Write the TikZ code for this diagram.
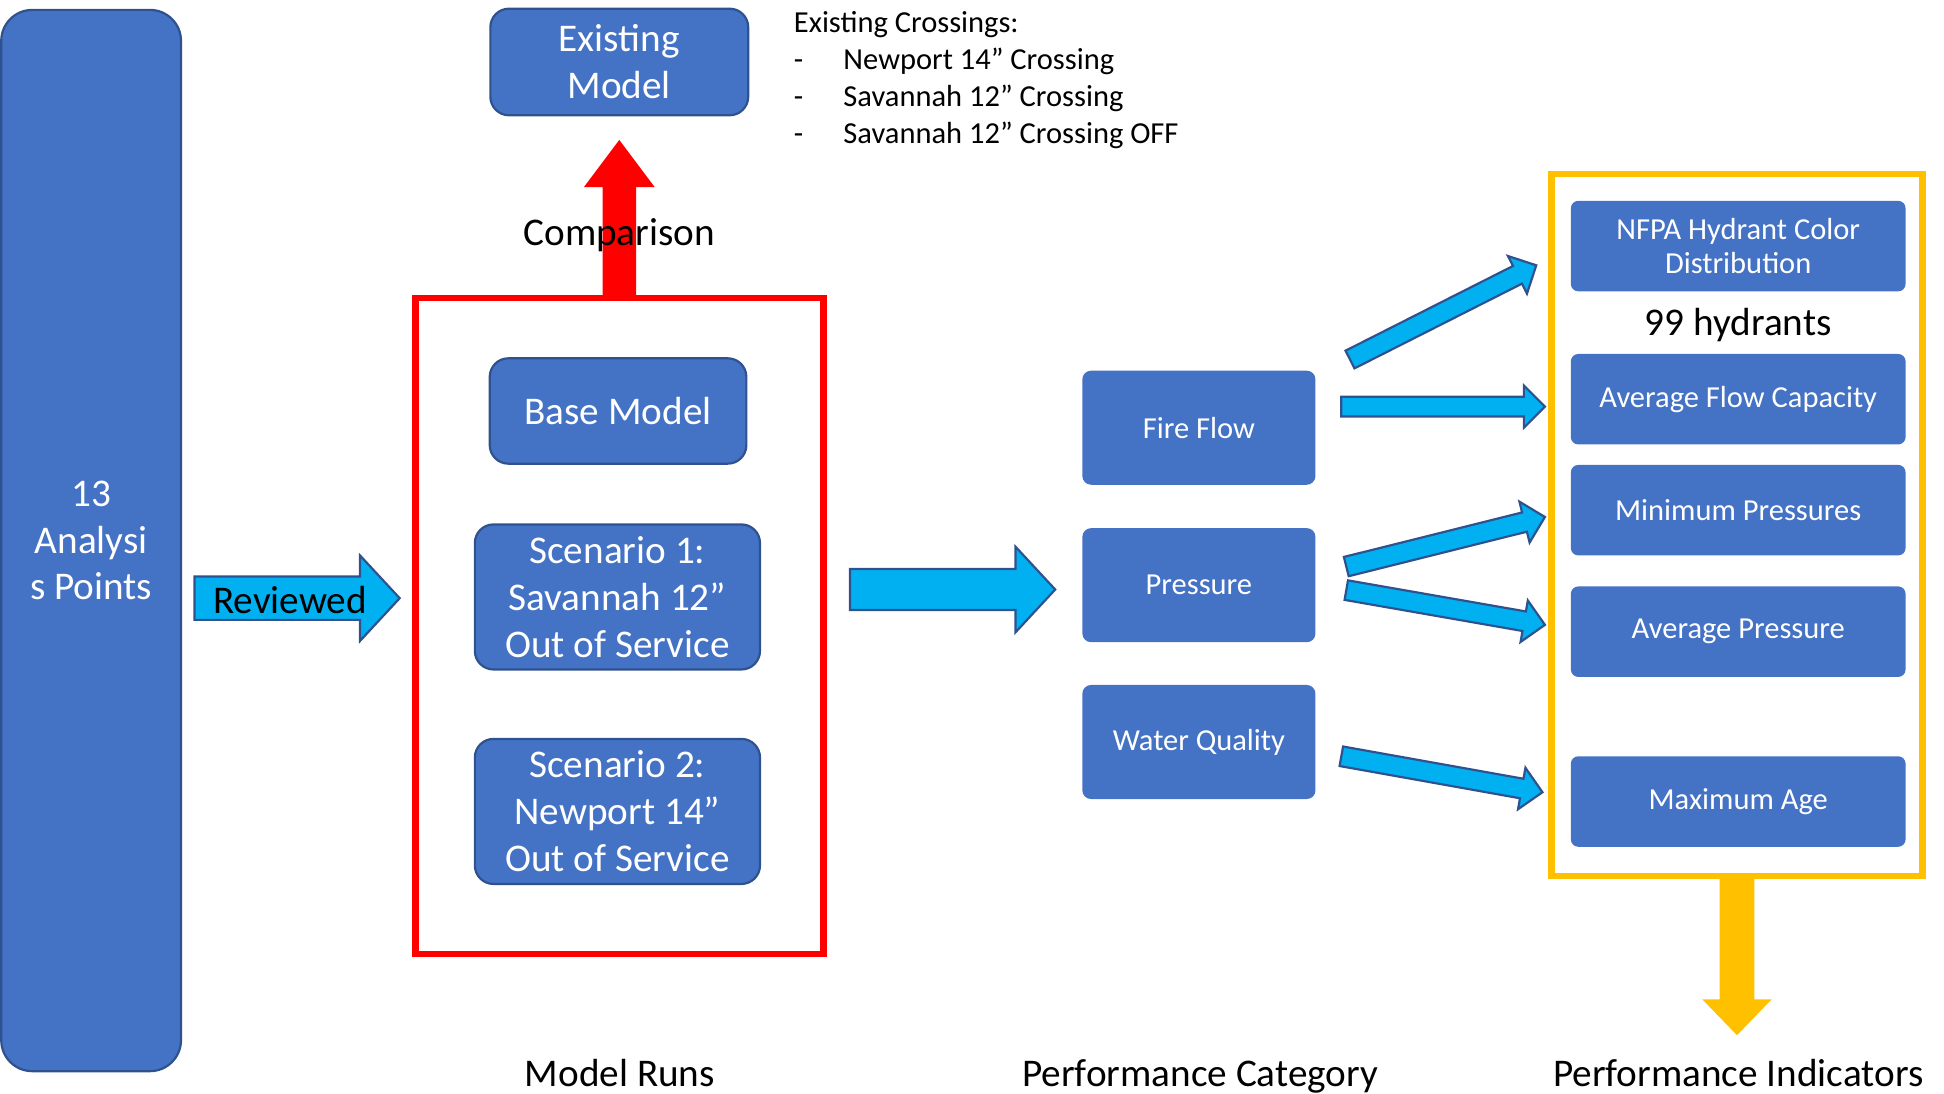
\documentclass[tikz,border=0pt]{standalone}
\usepackage{fontspec}
\setmainfont{Carlito}
\usepackage{tikz}
\usetikzlibrary{calc}
\definecolor{BoxBlue}{RGB}{68, 114, 196}
\definecolor{BoxEdge}{RGB}{47, 82, 143}
\definecolor{FlowCyan}{RGB}{0, 176, 240}
\definecolor{FrameYellow}{RGB}{255, 192, 0}

% block arrow: [style]{tail}{tip}{half shaft}{half head}{head length}
\newcommand{\blockarrow}[6][]{%
    \coordinate (ba) at ($(#3)!#6!(#2)$);
    \draw[#1] ($(#2)!#4!90:(#3)$) -- ($(ba)!#4!90:(#3)$) -- ($(ba)!#5!90:(#3)$) -- (#3)
        -- ($(ba)!#5!-90:(#3)$) -- ($(ba)!#4!-90:(#3)$) -- ($(#2)!#4!-90:(#3)$) -- cycle;
}

\begin{document}
\begin{tikzpicture}[
    box/.style={rectangle, rounded corners=0.3cm, fill=BoxBlue, draw=BoxEdge, line width=1pt,
        text=white, align=center, inner sep=0pt, font=\fontsize{18}{21.5}\selectfont},
    runbox/.style={box, minimum width=4.6cm, minimum height=2.34cm},
    catbox/.style={box, draw=none, rounded corners=0.14cm, minimum width=3.76cm,
        minimum height=1.84cm, font=\fontsize{14}{16}\selectfont},
    indbox/.style={catbox, rounded corners=0.12cm, minimum width=5.4cm, minimum height=1.46cm,
        font=\fontsize{14}{15.5}\selectfont},
    groupframe/.style={draw, line width=3pt, inner sep=0pt},
    flow/.style={fill=FlowCyan, draw=BoxEdge, line width=1pt},
    heading/.style={font=\fontsize{18}{21.5}\selectfont}
]
    %% Background
    \useasboundingbox (0,0) rectangle (31.36,17.64);

    %% Analysis points
    \node[box, rounded corners=0.5cm, minimum width=2.9cm, minimum height=17.12cm] (points)
        at (1.47,8.92) {13\\Analysi\\s Points};

    %% Model runs
    \node[groupframe, draw=red, minimum width=6.58cm, minimum height=10.58cm] (runs) at (9.99,7.54) {};
    \node[box, minimum width=4.14cm, minimum height=1.7cm] (base) at (9.97,11.01) {Base Model};
    \node[runbox] (scen1) at (9.96,8.01) {Scenario 1:\\Savannah 12”\\Out of Service};
    \node[runbox] (scen2) at (9.96,4.55) {Scenario 2:\\Newport 14”\\Out of Service};

    \node[box, minimum width=4.16cm, minimum height=1.72cm] (existing) at (9.99,16.64) {Existing\\Model};
    \node[anchor=north west, align=left, inner sep=0pt, font=\fontsize{14}{17}\selectfont] (crossings)
        at (12.8,17.46) {Existing Crossings:\\
        \makebox[0.8cm][l]{-}Newport 14” Crossing\\
        \makebox[0.8cm][l]{-}Savannah 12” Crossing\\
        \makebox[0.8cm][l]{-}Savannah 12” Crossing OFF};

    %% Performance categories
    \node[catbox] (fire) at (19.34,10.74) {Fire Flow};
    \node[catbox] (pressure) at (19.34,8.2) {Pressure};
    \node[catbox] (quality) at (19.34,5.67) {Water Quality};

    %% Performance indicators
    \node[groupframe, draw=FrameYellow, minimum width=5.98cm, minimum height=11.32cm] (indicators)
        at (28.02,9.17) {};
    \node[indbox] (nfpa) at (28.04,13.67) {NFPA Hydrant Color\\Distribution};
    \node[heading] (hydrants) at (28.04,12.4) {99 hydrants};
    \node[indbox] (avgflow) at (28.04,11.2) {Average Flow Capacity};
    \node[indbox] (minp) at (28.04,9.41) {Minimum Pressures};
    \node[indbox] (avgp) at (28.04,7.45) {Average Pressure};
    \node[indbox] (maxage) at (28.04,4.71) {Maximum Age};

    %% Big arrows
    \coordinate (revtail) at ($(points.east)+(0.2,-0.93)$);
    \coordinate (revtip) at ($(runs.west)+(-0.2,0.45)$);
    \blockarrow[flow]{revtail}{revtip}{0.35cm}{0.69cm}{0.64cm}

    \coordinate (runtail) at ($(runs.east)+(0.38,0.59)$);
    \coordinate (runtip) at ($(pressure.west)+(-0.42,-0.07)$);
    \blockarrow[flow]{runtail}{runtip}{0.33cm}{0.69cm}{0.64cm}

    \coordinate (cmptip) at ($(existing.south)+(0,-0.38)$);
    \blockarrow[fill=red, draw=none]{runs.north}{cmptip}{0.27cm}{0.57cm}{0.76cm}

    \coordinate (outtip) at (28.02,0.94);
    \blockarrow[fill=FrameYellow, draw=none]{indicators.south}{outtip}{0.28cm}{0.56cm}{0.58cm}

    %% Category to indicator arrows
    \coordinate (ff1) at ($(fire.east)+(0.54,1.1)$);
    \coordinate (ff2) at ($(fire.east)+(0.4,0.34)$);
    \coordinate (pr1) at ($(pressure.east)+(0.48,0.3)$);
    \coordinate (pr2) at ($(pressure.east)+(0.48,-0.08)$);
    \coordinate (wq) at ($(quality.east)+(0.4,-0.23)$);
    \coordinate (nfpain) at ($(nfpa.west)+(-0.54,-0.31)$);
    \coordinate (avgflowin) at ($(avgflow.west)+(-0.4,-0.12)$);
    \coordinate (minpin) at ($(minp.west)+(-0.4,-0.11)$);
    \coordinate (avgpin) at ($(avgp.west)+(-0.4,0.11)$);
    \coordinate (maxagein) at ($(maxage.west)+(-0.44,0.15)$);
    \blockarrow[flow]{ff1}{nfpain}{0.16cm}{0.34cm}{0.34cm}
    \blockarrow[flow]{ff2}{avgflowin}{0.16cm}{0.34cm}{0.34cm}
    \blockarrow[flow]{pr1}{minpin}{0.16cm}{0.34cm}{0.34cm}
    \blockarrow[flow]{pr2}{avgpin}{0.16cm}{0.34cm}{0.34cm}
    \blockarrow[flow]{wq}{maxagein}{0.16cm}{0.34cm}{0.34cm}

    %% Labels
    \node[heading] (cmp) at (9.99,13.84) {Comparison};
    \node[heading] (rev) at (4.68,7.96) {Reviewed};
    \node[heading, anchor=base] (runslbl) at (10.0,0.12) {Model Runs};
    \node[heading, anchor=base] (catlbl) at (19.36,0.12) {Performance Category};
    \node[heading, anchor=base] (indlbl) at (28.04,0.12) {Performance Indicators};
\end{tikzpicture}
\end{document}
